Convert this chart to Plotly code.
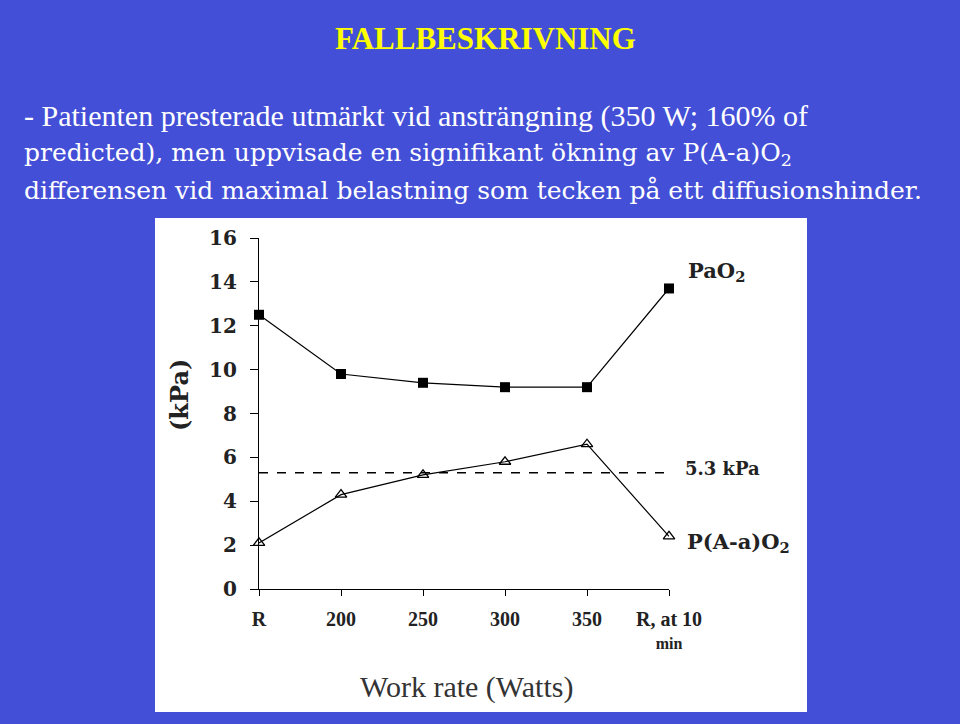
import plotly.graph_objects as go

categories = ["R", "200", "250", "300", "350", "R, at 10<br>min"]
pao2 = [12.5, 9.8, 9.4, 9.2, 9.2, 13.7]
paa_o2 = [2.1, 4.3, 5.2, 5.8, 6.6, 2.4]
threshold = 5.3
y_ticks = [0, 2, 4, 6, 8, 10, 12, 14, 16]

W, H = 960, 724
BLUE = "#434fd6"
SERIF = "Liberation Serif"
DSERIF = "DejaVu Serif"

xi = list(range(len(categories)))


def fmt_cat(c):
    parts = c.split("<br>")
    out = "<b><span style='font-size:20px'>" + parts[0] + "</span></b>"
    for p in parts[1:]:
        out += "<br><b><span style='font-size:16px'>" + p + "</span></b>"
    return out


fig = go.Figure()

fig.add_trace(go.Scatter(
    x=[xi[0], xi[-1] + 0.11], y=[threshold, threshold], mode="lines",
    line=dict(color="black", width=1.3, dash="dash"), cliponaxis=False,
    hoverinfo="skip", showlegend=False))

fig.add_trace(go.Scatter(
    x=xi, y=pao2, mode="lines+markers",
    line=dict(color="black", width=1.2),
    marker=dict(symbol="square", size=10, color="black"),
    cliponaxis=False, showlegend=False))

fig.add_trace(go.Scatter(
    x=xi, y=paa_o2, mode="lines+markers",
    line=dict(color="black", width=1.2),
    marker=dict(symbol="triangle-up-open", size=10, color="black", line=dict(width=1.3)),
    cliponaxis=False, showlegend=False))

fig.add_shape(type="rect", xref="paper", yref="paper", layer="below",
              x0=(155 - 259) / 410, x1=(807 - 259) / 410,
              y0=-(712 - 589) / 351, y1=(589 - 218) / 351,
              fillcolor="white", line=dict(width=0))

fig.update_layout(
    width=W, height=H,
    margin=dict(l=259, r=W - 669, t=238, b=H - 589),
    paper_bgcolor=BLUE, plot_bgcolor="rgba(0,0,0,0)",
    xaxis=dict(range=[0, 5], tickvals=xi, ticktext=[fmt_cat(c) for c in categories],
               showgrid=False, zeroline=False, showline=True, linecolor="black", linewidth=1.3,
               ticks="outside", ticklen=6, tickwidth=1.3, tickcolor="black",
               ticklabelstandoff=8,
               tickfont=dict(family=SERIF, size=18, color="#222"), tickangle=0),
    yaxis=dict(range=[0, 16], tickvals=y_ticks, ticktext=["<b>%d</b>" % v for v in y_ticks],
               showgrid=False, zeroline=False, showline=True, linecolor="black", linewidth=1.3,
               ticks="outside", ticklen=8, tickwidth=1.3, tickcolor="black",
               ticklabelstandoff=9,
               tickfont=dict(family=DSERIF, size=20, color="#222")),
    font=dict(family=SERIF),
)


def px_ann(text, px, py, size, color="black", xanchor="center", bold=False, angle=0, family=SERIF):
    if bold:
        text = "<b>" + text + "</b>"
    fig.add_annotation(text=text, x=(px - 259) / 410, y=(589 - py) / 351,
                       xref="paper", yref="paper",
                       xanchor=xanchor, yanchor="middle", showarrow=False, textangle=angle,
                       font=dict(family=family, size=size, color=color))


px_ann("FALLBESKRIVNING", 485, 38, 31, color="#ffff00", bold=True)
px_ann("- Patienten presterade utmärkt vid ansträngning (350 W; 160% of",
       22, 116, 30, color="white", xanchor="left", family="Liberation Serif")
px_ann("predicted), men uppvisade en signifikant ökning av P(A-a)O<sub>2</sub>", 22, 154, 25, color="white", xanchor="left", family="DejaVu Serif")
px_ann("differensen vid maximal belastning som tecken på ett diffusionshinder.", 22, 190, 25, color="white", xanchor="left", family="DejaVu Serif")

px_ann("(kPa)", 179, 395, 24, bold=True, angle=-90, color="#222", family=DSERIF)
px_ann("Work rate (Watts)", 466, 687, 30, color="#333", family="Liberation Serif")
px_ann("PaO<sub>2</sub>", 686, 271, 21, bold=True, xanchor="left", color="#222", family=DSERIF)
px_ann("5.3 kPa", 683, 468, 18, bold=True, xanchor="left", color="#222", family=DSERIF)
px_ann("P(A-a)O<sub>2</sub>", 685, 542, 21, bold=True, xanchor="left", color="#222", family=DSERIF)

fig.write_html("out.html")
